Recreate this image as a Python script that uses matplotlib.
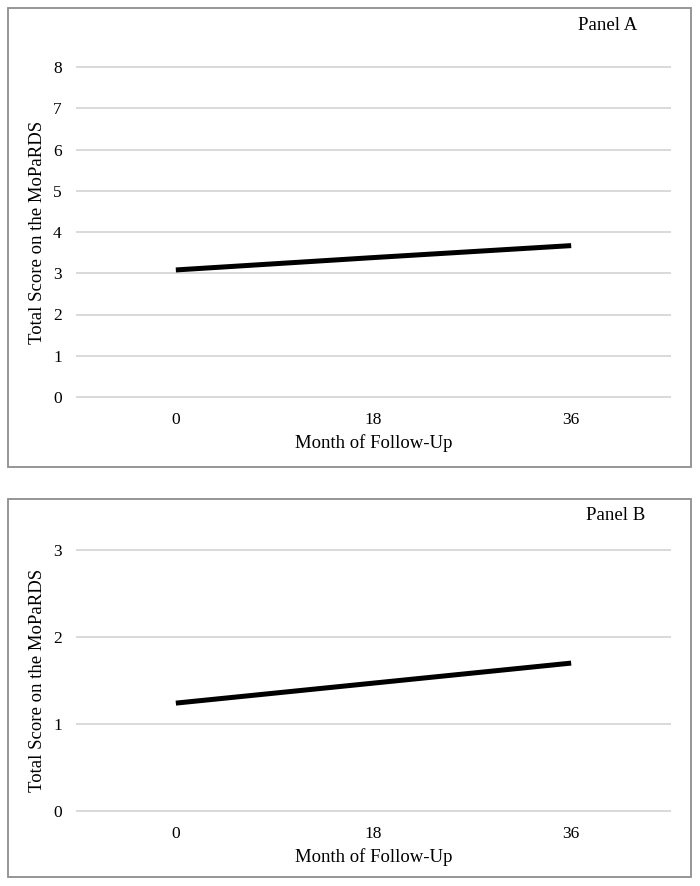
#!/usr/bin/env python3
"""Two-panel MoPaRDS total score over follow-up months."""

import matplotlib
matplotlib.use("Agg")
import matplotlib.pyplot as plt
from matplotlib.patches import Rectangle

months = [0, 18, 36]
month_labels = ["0", "18", "36"]
score_a = [3.08, 3.38, 3.67]
score_b = [1.24, 1.47, 1.70]

plt.rcParams["font.family"] = ["Liberation Serif", "DejaVu Serif"]

W, H = 700, 886
fig = plt.figure(figsize=(W / 100, H / 100), dpi=100)


def px_axes(left, top, right, bottom):
    return fig.add_axes([left / W, 1 - bottom / H, (right - left) / W, (bottom - top) / H])


def draw_panel(ax, values, ymax, box, panel_text, text_xy, xlab_y, ylab_x):
    # outer gray frame around the panel
    x0, y0, x1, y1 = box
    fig.patches.append(Rectangle((x0 / W, 1 - y1 / H), (x1 - x0) / W, (y1 - y0) / H,
                                 transform=fig.transFigure, fill=False,
                                 edgecolor="#8e8e8e", linewidth=1.3))

    ax.plot(months, values, color="black", linewidth=3.6, solid_capstyle="butt", zorder=3)
    ax.set_xlim(-9, 45)
    ax.set_ylim(0, ymax)
    ax.set_xticks(months)
    ax.set_xticklabels(month_labels)
    ax.set_yticks(range(0, ymax + 1))
    ax.tick_params(length=0, labelsize=12.5, pad=11)
    ax.grid(axis="y", color="#d9d9d9", linewidth=1.4)
    for gl in ax.get_ygridlines():
        gl.set_clip_on(False)
    for s in ax.spines.values():
        s.set_visible(False)

    ax.set_xlabel("Month of Follow-Up", fontsize=13.5)
    ax.xaxis.set_label_coords(0.5, xlab_y)
    ax.xaxis.label.set_va("center")
    ax.set_ylabel("Total Score on the MoPaRDS", fontsize=13.5)
    ax.yaxis.set_label_coords(ylab_x, 0.5)
    ax.yaxis.label.set_va("center")

    fig.text(text_xy[0] / W, 1 - text_xy[1] / H, panel_text, fontsize=13.5,
             ha="center", va="center")


ax_a = px_axes(77, 67, 670, 397)
draw_panel(ax_a, score_a, 8, (8, 8, 691, 467), "Panel A", (608, 25),
           (397 - 443) / 330, (38 - 77) / 593)

ax_b = px_axes(77, 550, 670, 811)
draw_panel(ax_b, score_b, 3, (8, 499, 691, 877), "Panel B", (616, 516),
           (811 - 857) / 261, (38 - 77) / 593)

plt.savefig("out.png", dpi=100)
